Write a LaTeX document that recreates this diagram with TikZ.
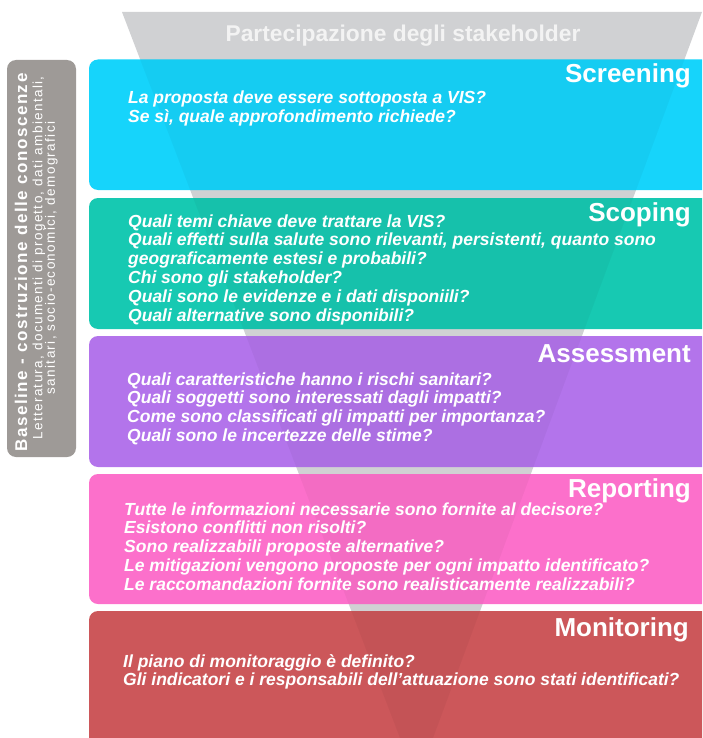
\documentclass[tikz,border=0pt]{standalone}
\usepackage{fontspec}
\setmainfont{Liberation Sans}
\newfontfamily\basebold[LetterSpace=9]{Liberation Sans Bold}
\newfontfamily\baseregular[LetterSpace=10]{Liberation Sans}
\definecolor{cFunnel}{RGB}{208,209,211}
\definecolor{cFunnelText}{RGB}{243,243,243}
\definecolor{cBase}{RGB}{158,154,151}
\definecolor{cScreen}{RGB}{22,212,251}
\definecolor{cScope}{RGB}{23,201,178}
\definecolor{cAssess}{RGB}{179,116,235}
\definecolor{cReport}{RGB}{252,112,203}
\definecolor{cMonitor}{RGB}{204,87,90}
\tikzset{
  phasebox/.style={rounded corners=9pt},
  phasetitle/.style={font=\fontsize{26}{28}\selectfont\bfseries, text=white, anchor=base east, inner sep=0pt},
  phasebody/.style={font=\fontsize{17.5}{18.9}\selectfont\bfseries\itshape, text=white, align=left, anchor=base west, inner sep=0pt},
}
\begin{document}
\begin{tikzpicture}[x=1pt,y=-1pt]
\useasboundingbox (0,0) rectangle (702,738);
\clip (0,0) rectangle (702,738);
% funnel
\def\funnel{(122,12) -- (702,12) -- (433,738) -- (400,738) -- cycle}
\fill[cFunnel] \funnel;
\node[font=\fontsize{22.8}{24}\selectfont\bfseries, text=cFunnelText, anchor=base, inner sep=0pt] (stake) at (403,41.5) {Partecipazione degli stakeholder};
% baseline box
\fill[cBase, rounded corners=9pt] (7,60) rectangle (76,457);
\node[rotate=90, font=\fontsize{17}{18}\basebold, text=white, inner sep=0pt] (base1) at (21,262.5) {Baseline - costruzione delle conoscenze};
\node[rotate=90, font=\fontsize{13.5}{14}\baseregular, text=white, inner sep=0pt] (base2) at (39,258) {Letteratura, documenti di progetto, dati ambientali,};
\node[rotate=90, font=\fontsize{13.5}{14}\baseregular, text=white, inner sep=0pt] (base3) at (51.5,258) {sanitari, socio-economici, demografici};
% phase boxes
\foreach \t/\b/\c in {59.5/190/cScreen, 198/329/cScope, 336/467/cAssess, 474/604/cReport, 611/748/cMonitor}{
  \fill[\c, phasebox] (89,\t) rectangle (712,\b);
  \begin{scope}
    \clip[phasebox] (89,\t) rectangle (712,\b);
    \fill[black, opacity=0.035] \funnel;
  \end{scope}
}
% screening
\node[phasetitle] (tscreen) at (691,83) {Screening};
\node[phasebody] (bscreen) at (128,122.9) {La proposta deve essere sottoposta a VIS?\\Se sì, quale approfondimento richiede?};
% scoping
\node[phasetitle] (tscope) at (691,221) {Scoping};
\node[phasebody] (bscope) at (128,321.5) {Quali temi chiave deve trattare la VIS?\\Quali effetti sulla salute sono rilevanti, persistenti, quanto sono\\geograficamente estesi e probabili?\\Chi sono gli stakeholder?\\Quali sono le evidenze e i dati disponiili?\\Quali alternative sono disponibili?};
% assessment
\node[phasetitle] (tassess) at (691,362) {Assessment};
\node[phasebody] (bassess) at (127,441.7) {Quali caratteristiche hanno i rischi sanitari?\\Quali soggetti sono interessati dagli impatti?\\Come sono classificati gli impatti per importanza?\\Quali sono le incertezze delle stime?};
% reporting
\node[phasetitle] (treport) at (691,497) {Reporting};
\node[phasebody] (breport) at (124,590.6) {Tutte le informazioni necessarie sono fornite al decisore?\\Esistono conflitti non risolti?\\Sono realizzabili proposte alternative?\\Le mitigazioni vengono proposte per ogni impatto identificato?\\Le raccomandazioni fornite sono realisticamente realizzabili?};
% monitoring
\node[phasetitle] (tmonitor) at (689,636) {Monitoring};
\node[phasebody] (bmonitor) at (123,685.9) {Il piano di monitoraggio è definito?\\Gli indicatori e i responsabili dell’attuazione sono stati identificati?};
\end{tikzpicture}
\end{document}
